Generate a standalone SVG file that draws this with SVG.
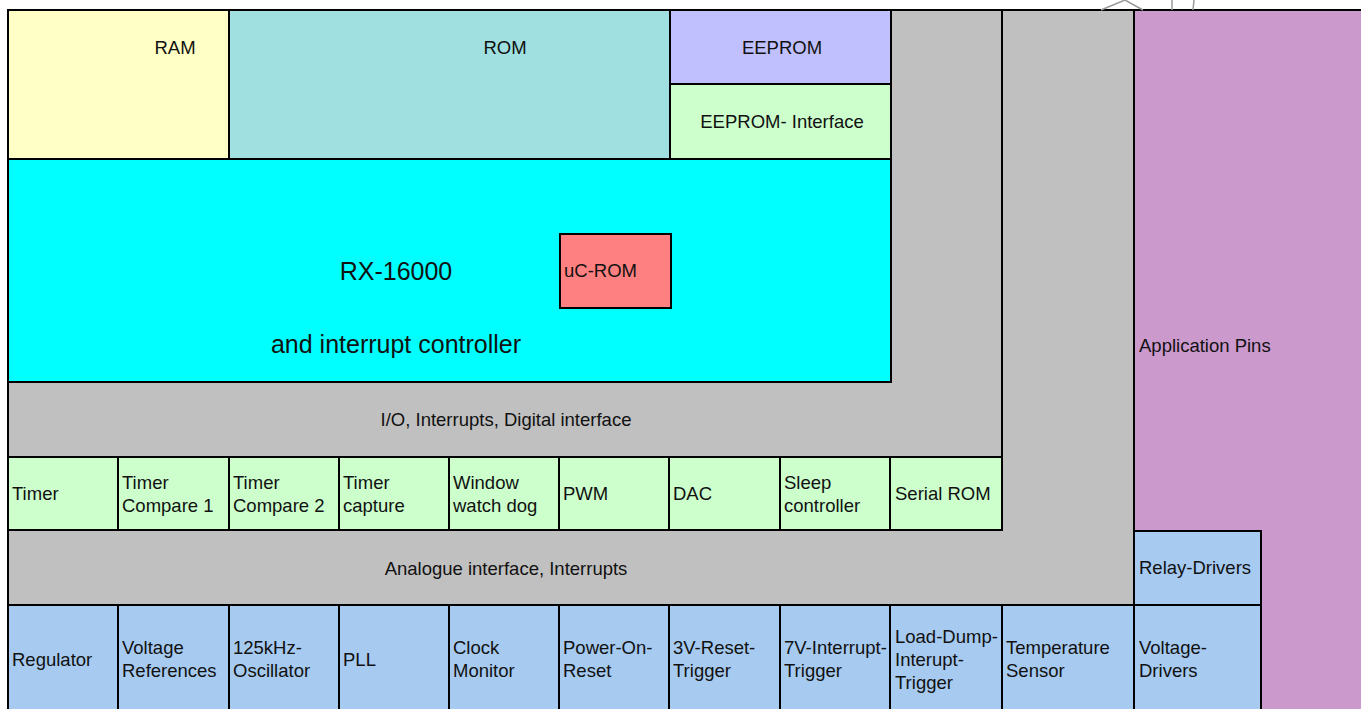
<svg xmlns="http://www.w3.org/2000/svg" width="1361" height="709" viewBox="0 0 1361 709">
  <style>
    .box { stroke: #000; stroke-width: 2; }
    .t { font-family: "Liberation Sans", Arial, sans-serif; font-size: 18.5px; fill: #111; }
    .c { text-anchor: middle; }
    .big { font-size: 25px; }
    .ram { fill: #FFFFC6; }
    .rom { fill: #A0E0E0; }
    .ee { fill: #C0C0FF; }
    .grn { fill: #CCFFCC; }
    .cpu { fill: #00FFFF; }
    .bus { fill: #C0C0C0; }
    .pin { fill: #CC99CC; }
    .ana { fill: #A6CAF0; }
    .uc { fill: #FF8080; }
    .thin { fill: none; stroke: #9a9a9a; stroke-width: 1.5; }
  </style>

  <rect x="0" y="0" width="1361" height="709" fill="#fff"/>

  <!-- application pin column on the right -->
  <g id="app-pins">
    <rect class="pin box" x="1134" y="10" width="240" height="710"/>
    <text class="t" x="1139" y="352">Application Pins</text>
  </g>

  <!-- digital bus: vertical column and I/O band -->
  <g id="io-bus">
    <polygon class="bus box" points="891,10 1002,10 1002,457 8,457 8,382 891,382"/>
    <text class="t c" x="506" y="426">I/O, Interrupts, Digital interface</text>
  </g>

  <!-- analogue bus: vertical column and analogue band -->
  <g id="analogue-bus">
    <polygon class="bus box" points="1002,10 1134,10 1134,605 8,605 8,530 1002,530"/>
    <text class="t c" x="506" y="575">Analogue interface, Interrupts</text>
  </g>

  <!-- memories -->
  <g id="ram">
    <rect class="ram box" x="8" y="10" width="221" height="149"/>
    <text class="t c" x="175" y="54">RAM</text>
  </g>
  <g id="rom">
    <rect class="rom box" x="229" y="10" width="441" height="149"/>
    <text class="t c" x="505" y="54">ROM</text>
  </g>
  <g id="eeprom">
    <rect class="ee box" x="670" y="10" width="221" height="74"/>
    <text class="t c" x="782" y="54">EEPROM</text>
  </g>
  <g id="eeprom-interface">
    <rect class="grn box" x="670" y="84" width="221" height="75"/>
    <text class="t c" x="782" y="128">EEPROM- Interface</text>
  </g>

  <!-- CPU core -->
  <g id="cpu">
    <rect class="cpu box" x="8" y="159" width="883" height="223"/>
    <text class="t c big" x="396" y="280">RX-16000</text>
    <text class="t c big" x="396" y="353">and interrupt controller</text>
  </g>
  <g id="uc-rom">
    <rect class="uc box" x="560" y="234" width="111" height="74"/>
    <text class="t" x="564" y="277">uC-ROM</text>
  </g>

  <!-- digital peripherals -->
  <g id="timer">
    <rect class="grn box" x="8" y="457" width="110" height="73"/>
    <text class="t" x="12" y="500">Timer</text>
  </g>
  <g id="timer-compare-1">
    <rect class="grn box" x="118" y="457" width="111" height="73"/>
    <text class="t" x="122" y="489">Timer</text>
    <text class="t" x="122" y="512">Compare 1</text>
  </g>
  <g id="timer-compare-2">
    <rect class="grn box" x="229" y="457" width="110" height="73"/>
    <text class="t" x="233" y="489">Timer</text>
    <text class="t" x="233" y="512">Compare 2</text>
  </g>
  <g id="timer-capture">
    <rect class="grn box" x="339" y="457" width="110" height="73"/>
    <text class="t" x="343" y="489">Timer</text>
    <text class="t" x="343" y="512">capture</text>
  </g>
  <g id="watchdog">
    <rect class="grn box" x="449" y="457" width="110" height="73"/>
    <text class="t" x="453" y="489">Window</text>
    <text class="t" x="453" y="512">watch dog</text>
  </g>
  <g id="pwm">
    <rect class="grn box" x="559" y="457" width="110" height="73"/>
    <text class="t" x="563" y="500">PWM</text>
  </g>
  <g id="dac">
    <rect class="grn box" x="669" y="457" width="111" height="73"/>
    <text class="t" x="673" y="500">DAC</text>
  </g>
  <g id="sleep-controller">
    <rect class="grn box" x="780" y="457" width="110" height="73"/>
    <text class="t" x="784" y="489">Sleep</text>
    <text class="t" x="784" y="512">controller</text>
  </g>
  <g id="serial-rom">
    <rect class="grn box" x="890" y="457" width="112" height="73"/>
    <text class="t" x="895" y="500">Serial ROM</text>
  </g>

  <!-- analogue blocks -->
  <g id="regulator">
    <rect class="ana box" x="8" y="605" width="110" height="110"/>
    <text class="t" x="12" y="666">Regulator</text>
  </g>
  <g id="voltage-references">
    <rect class="ana box" x="118" y="605" width="111" height="110"/>
    <text class="t" x="122" y="654">Voltage</text>
    <text class="t" x="122" y="677">References</text>
  </g>
  <g id="oscillator">
    <rect class="ana box" x="229" y="605" width="110" height="110"/>
    <text class="t" x="233" y="654">125kHz-</text>
    <text class="t" x="233" y="677">Oscillator</text>
  </g>
  <g id="pll">
    <rect class="ana box" x="339" y="605" width="110" height="110"/>
    <text class="t" x="343" y="666">PLL</text>
  </g>
  <g id="clock-monitor">
    <rect class="ana box" x="449" y="605" width="110" height="110"/>
    <text class="t" x="453" y="654">Clock</text>
    <text class="t" x="453" y="677">Monitor</text>
  </g>
  <g id="power-on-reset">
    <rect class="ana box" x="559" y="605" width="110" height="110"/>
    <text class="t" x="563" y="654">Power-On-</text>
    <text class="t" x="563" y="677">Reset</text>
  </g>
  <g id="reset-trigger-3v">
    <rect class="ana box" x="669" y="605" width="111" height="110"/>
    <text class="t" x="673" y="654">3V-Reset-</text>
    <text class="t" x="673" y="677">Trigger</text>
  </g>
  <g id="interrupt-trigger-7v">
    <rect class="ana box" x="780" y="605" width="110" height="110"/>
    <text class="t" x="784" y="654">7V-Interrupt-</text>
    <text class="t" x="784" y="677">Trigger</text>
  </g>
  <g id="load-dump-trigger">
    <rect class="ana box" x="890" y="605" width="112" height="110"/>
    <text class="t" x="895" y="643">Load-Dump-</text>
    <text class="t" x="895" y="666">Interupt-</text>
    <text class="t" x="895" y="689">Trigger</text>
  </g>
  <g id="temperature-sensor">
    <rect class="ana box" x="1002" y="605" width="132" height="110"/>
    <text class="t" x="1006" y="654">Temperature</text>
    <text class="t" x="1006" y="677">Sensor</text>
  </g>
  <g id="relay-drivers">
    <rect class="ana box" x="1134" y="531" width="127" height="74"/>
    <text class="t" x="1139" y="574">Relay-Drivers</text>
  </g>
  <g id="voltage-drivers">
    <rect class="ana box" x="1134" y="605" width="127" height="110"/>
    <text class="t" x="1139" y="654">Voltage-</text>
    <text class="t" x="1139" y="677">Drivers</text>
  </g>

  <!-- partial lines leaving the top edge -->
  <g id="connectors">
    <polyline class="thin" points="1101,10 1125,0 1143,10"/>
    <line class="thin" x1="1172" y1="0" x2="1172" y2="10"/>
    <line class="thin" x1="1194" y1="0" x2="1193" y2="10"/>
  </g>
</svg>
